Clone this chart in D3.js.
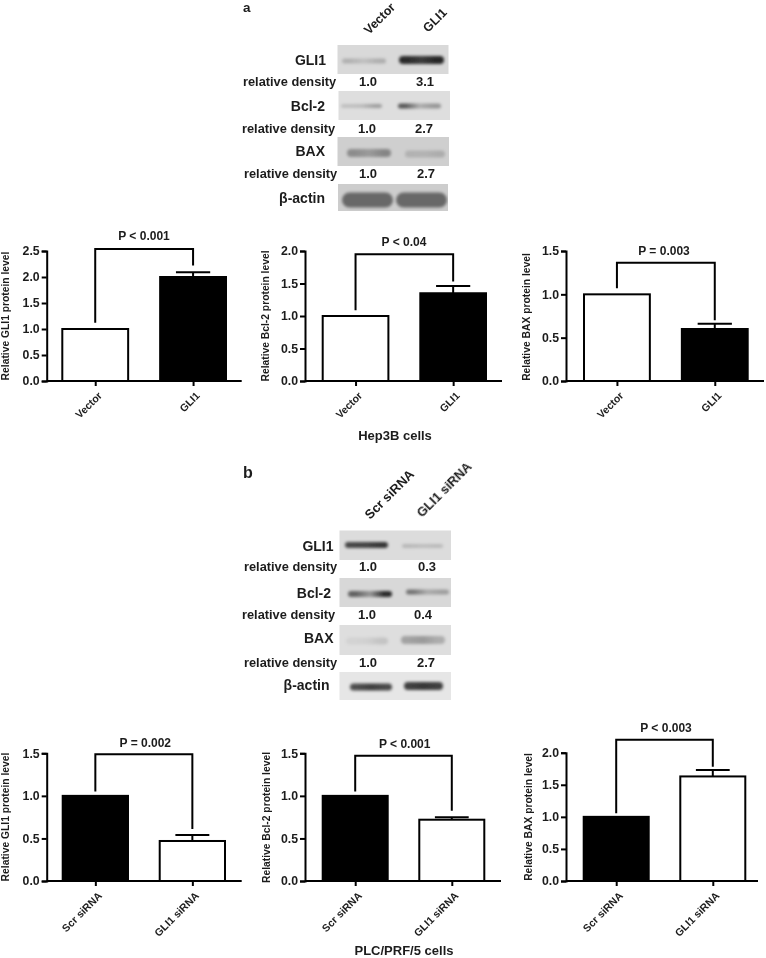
<!DOCTYPE html>
<html><head><meta charset="utf-8">
<style>
html,body{margin:0;padding:0;background:#fff}
svg{display:block}
text{font-family:"Liberation Sans",Arial,sans-serif;font-weight:bold;fill:#1c1c1c}
</style>
<script src="https://cdn.jsdelivr.net/npm/d3@7"></script>
</head><body>
<script>
// ---------- DATA ----------
const vectorCats = ["Vector", "GLI1"];
const sirnaCats = ["Scr siRNA", "GLI1 siRNA"];
const yTitles = ["Relative GLI1 protein level", "Relative Bcl-2 protein level", "Relative BAX protein level",
                 "Relative GLI1 protein level", "Relative Bcl-2 protein level", "Relative BAX protein level"];
const barValues = [[1, 2.0], [1, 1.35], [1, 0.6], [1, 0.47], [1, 0.72], [1, 1.63]];
const errorTops = [2.09, 1.46, 0.66, 0.54, 0.75, 1.73];
const yMaxes = [2.5, 2.0, 1.5, 1.5, 1.5, 2.0];
const pLabels = ["P < 0.001", "P < 0.04", "P = 0.003", "P = 0.002", "P < 0.001", "P < 0.003"];
const bracketTops = [2.54, 1.95, 1.365, 1.49, 1.47, 2.2];
const bracketLeftEnds = [1.12, 1.09, 1.07, 1.05, 1.05, 1.055];
const bracketRightEnds = [2.22, 1.53, 0.70, 0.61, 0.826, 1.78];
const blotNames = ["GLI1", "Bcl-2", "BAX", "β-actin"];
const densityLabel = "relative density";
const densityA = [["1.0", "3.1"], ["1.0", "2.7"], ["1.0", "2.7"]];
const densityB = [["1.0", "0.3"], ["1.0", "0.4"], ["1.0", "2.7"]];
// band darkness (0-1) at left, middle, right of each lane
const bandsA = [[[.22, .14, .24], [.95, .85, .97]],
                [[.16, .18, .34], [.72, .26, .38]],
                [[.38, .30, .42], [.17, .16, .2]],
                [[.58, .58, .58], [.58, .58, .58]]];
const bandsB = [[[.8, .82, .9], [.2, .16, .18]],
                [[.65, .35, .95], [.55, .25, .32]],
                [[.06, .07, .14], [.32, .36, .26]],
                [[.78, .86, .8], [.85, .9, .85]]];
const groupTitles = ["Hep3B cells", "PLC/PRF/5 cells"];

// ---------- LAYOUT ----------
const W = 766, H = 958;
const chartLayout = [
 {ax:46.7, xEnd:241.7, base:381, top:251, b0:62.3, b1:226, fills:["#fff","#000"], cats:vectorCats, tx:9, ty:316, px:144, py:240},
 {ax:305, xEnd:502, base:381, top:251, b0:322.7, b1:486, fills:["#fff","#000"], cats:vectorCats, tx:268.5, ty:316, px:404, py:246.3},
 {ax:566, xEnd:764, base:381, top:251, b0:584, b1:747.7, fills:["#fff","#000"], cats:vectorCats, tx:529.5, ty:317, px:664, py:255},
 {ax:46.7, xEnd:241.7, base:881, top:753.3, b0:62.7, b1:225, fills:["#000","#fff"], cats:sirnaCats, tx:9, ty:817, px:145.3, py:747},
 {ax:305, xEnd:501, base:881, top:753.3, b0:322.7, b1:484.3, fills:["#000","#fff"], cats:sirnaCats, tx:269.5, ty:817.5, px:404.7, py:747.7},
 {ax:566, xEnd:758, base:881, top:752.7, b0:583.7, b1:745.3, fills:["#000","#fff"], cats:sirnaCats, tx:531.5, ty:817, px:666, py:731.7}
];
const blotLayoutA = {
 panels:[{x0:337.5,x1:448.5,y0:45,y1:74,bg:"#d9d9d9"},{x0:338.5,x1:450,y0:91,y1:120,bg:"#dedede"},
         {x0:337.5,x1:449,y0:137,y1:166,bg:"#cfcfcf"},{x0:338,x1:448,y0:184,y1:211,bg:"#cdcdcd"}],
 lanes:[[[342,386,61,5],[399,444,60,8]],[[341,382,106,4],[398,441,106,5]],[[347,391,153,8],[405,445,154,7]],[[342,393,200,15],[396,447,200,15]]],
 names:[[326,65],[325,111],[325,156],[325,203]],
 rel:[[243,86],[242,133],[244,178]],
 vals:[[368,425,86],[367,424,133],[368,426,178]],
 head:[[369,35,"Vector"],[428,33,"GLI1"]], headSize:12.5,
 letter:["a",243,11.8,13.5], group:[395,440]
};
const blotLayoutB = {
 panels:[{x0:339.5,x1:451,y0:530.5,y1:560,bg:"#dcdcdc"},{x0:339.5,x1:451,y0:578,y1:607,bg:"#d8d8d8"},
         {x0:339.5,x1:451,y0:625,y1:655,bg:"#dedede"},{x0:339.5,x1:451,y0:672,y1:700,bg:"#e6e6e6"}],
 lanes:[[[345,388,545,6],[402,443,546,4]],[[348,392,594,6],[406,449,592,5]],[[346,388,641,7],[401,445,640,8]],[[350,392,687,7],[404,443,686,8]]],
 names:[[333.5,551],[331,598],[333.5,643],[329.5,690]],
 rel:[[244,571],[242,619],[244,667]],
 vals:[[368,427,571],[367,423,619],[368,426,667]],
 head:[[370,520,"Scr siRNA"],[422,518,"GLI1 siRNA"]], headSize:13,
 letter:["b",243,478,16], group:[404,955]
};

// ---------- DRAW ----------
const svg = d3.select("body").append("svg").attr("width", W).attr("height", H);
const defs = svg.append("defs");
defs.append("filter").attr("id","soft").attr("x","-2%").attr("y","-2%").attr("width","104%").attr("height","104%")
  .append("feGaussianBlur").attr("stdDeviation",0.4);
defs.append("filter").attr("id","band").attr("x","-30%").attr("y","-80%").attr("width","160%").attr("height","260%")
  .append("feGaussianBlur").attr("stdDeviation",1.8);
svg.append("rect").attr("width",W).attr("height",H).attr("fill","#fff");
const root = svg.append("g").attr("filter","url(#soft)");

function drawBlot(layout, bands, density) {
  const g = root.append("g");
  layout.panels.forEach((p, i) => {
    const clipId = "clip" + layout.letter[0] + i;
    defs.append("clipPath").attr("id", clipId).append("rect")
      .attr("x",p.x0).attr("y",p.y0).attr("width",p.x1-p.x0).attr("height",p.y1-p.y0);
    g.append("rect").attr("x",p.x0).attr("y",p.y0).attr("width",p.x1-p.x0).attr("height",p.y1-p.y0).attr("fill",p.bg);
    const pg = g.append("g").attr("clip-path",`url(#${clipId})`);
    bands[i].forEach((lane, l) => {
      const [xa, xb, cy, h] = layout.lanes[i][l];
      const grad = "grad" + layout.letter[0] + i + l;
      const stops = d3.scaleLinear().domain([0, lane.length-1]).range([0.18, 0.82]);
      const lg = defs.append("linearGradient").attr("id",grad);
      lg.append("stop").attr("offset",0).attr("stop-color","#000").attr("stop-opacity",lane[0]*0.85);
      lane.forEach((d,k) => lg.append("stop").attr("offset",stops(k)).attr("stop-color","#000").attr("stop-opacity",d*0.85));
      lg.append("stop").attr("offset",1).attr("stop-color","#000").attr("stop-opacity",lane[lane.length-1]*0.85);
      pg.append("g").attr("filter","url(#band)").append("rect")
        .attr("x",xa).attr("width",xb-xa).attr("y",cy-h/2).attr("height",h)
        .attr("rx",h/2).attr("ry",h/2).attr("fill",`url(#${grad})`);
    });
    const [nx, ny] = layout.names[i];
    g.append("text").attr("x",nx).attr("y",ny).attr("text-anchor","end").attr("font-size",14).text(blotNames[i]);
  });
  density.forEach((pair, i) => {
    const [rx, ry] = layout.rel[i];
    g.append("text").attr("x",rx).attr("y",ry).attr("font-size",12.8).text(densityLabel);
    const [v0, v1, vy] = layout.vals[i];
    g.append("text").attr("x",v0).attr("y",vy).attr("text-anchor","middle").attr("font-size",13).text(pair[0]);
    g.append("text").attr("x",v1).attr("y",vy).attr("text-anchor","middle").attr("font-size",13).text(pair[1]);
  });
  layout.head.forEach(([x,y,t]) => {
    g.append("text").attr("transform",`translate(${x},${y}) rotate(-45)`).attr("font-size",layout.headSize).text(t);
  });
  g.append("text").attr("x",layout.letter[1]).attr("y",layout.letter[2]).attr("font-size",layout.letter[3]).text(layout.letter[0]);
  g.append("text").attr("x",layout.group[0]).attr("y",layout.group[1]).attr("text-anchor","middle").attr("font-size",13).text(groupTitles[layout.letter[0]==="a"?0:1]);
}
drawBlot(blotLayoutA, bandsA, densityA);
drawBlot(blotLayoutB, bandsB, densityB);

chartLayout.forEach((c, i) => {
  const g = root.append("g");
  const y = d3.scaleLinear().domain([0, yMaxes[i]]).range([c.base, c.top]);
  const x = d3.scaleBand().domain(c.cats).range([c.b0, c.b1]).paddingInner(0.327).paddingOuter(0);
  const center = k => x(c.cats[k]) + x.bandwidth()/2;
  const sw = 2;

  // bars
  g.selectAll("rect.bar").data(barValues[i]).join("rect").attr("class","bar")
    .attr("x",(d,k)=>x(c.cats[k])).attr("y",d=>y(d))
    .attr("width",x.bandwidth()).attr("height",d=>c.base-y(d))
    .attr("fill",(d,k)=>c.fills[k]).attr("stroke","#000").attr("stroke-width",sw);

  // error bar on 2nd bar
  const ex = center(1), capW = x.bandwidth()*0.26;
  g.append("line").attr("x1",ex).attr("x2",ex).attr("y1",y(barValues[i][1])).attr("y2",y(errorTops[i])).attr("stroke","#000").attr("stroke-width",sw);
  g.append("line").attr("x1",ex-capW).attr("x2",ex+capW).attr("y1",y(errorTops[i])).attr("y2",y(errorTops[i])).attr("stroke","#000").attr("stroke-width",sw);

  // axes
  const yAxis = d3.axisLeft(y).tickValues(d3.range(0, yMaxes[i]+0.01, 0.5)).tickFormat(d3.format(".1f")).tickSizeOuter(0).tickSize(5).tickPadding(2);
  const ga = g.append("g").attr("transform",`translate(${c.ax},0)`).call(yAxis);
  ga.selectAll("text").attr("font-size",12.3).attr("fill","#1c1c1c");
  ga.selectAll("line,path").attr("stroke","#000").attr("stroke-width",sw);

  const xFull = d3.scaleOrdinal().domain(c.cats).range(c.cats.map((_,k)=>center(k)));
  const xAxis = d3.axisBottom(xFull).tickSize(5).tickSizeOuter(0);
  const gx = g.append("g").attr("transform",`translate(0,${c.base})`).call(xAxis);
  gx.select("path").remove();
  gx.selectAll("line").attr("stroke","#000").attr("stroke-width",sw);
  gx.selectAll("text").attr("font-size",10.5).attr("fill","#1c1c1c")
    .attr("text-anchor","end").attr("x",-6).attr("y",12).attr("dy","0.35em")
    .attr("transform","rotate(-45)");
  g.append("line").attr("x1",c.ax).attr("x2",c.xEnd).attr("y1",c.base).attr("y2",c.base).attr("stroke","#000").attr("stroke-width",sw);

  // bracket
  const line = d3.line();
  g.append("path").attr("fill","none").attr("stroke","#000").attr("stroke-width",sw)
    .attr("d",line([[center(0),y(bracketLeftEnds[i])],[center(0),y(bracketTops[i])],[center(1),y(bracketTops[i])],[center(1),y(bracketRightEnds[i])]]));
  g.append("text").attr("x",c.px).attr("y",c.py).attr("text-anchor","middle").attr("font-size",12).text(pLabels[i]);

  // y title
  g.append("text").attr("transform",`translate(${c.tx},${c.ty}) rotate(-90)`).attr("text-anchor","middle").attr("font-size",10.3).text(yTitles[i]);
});
</script>
</body></html>
